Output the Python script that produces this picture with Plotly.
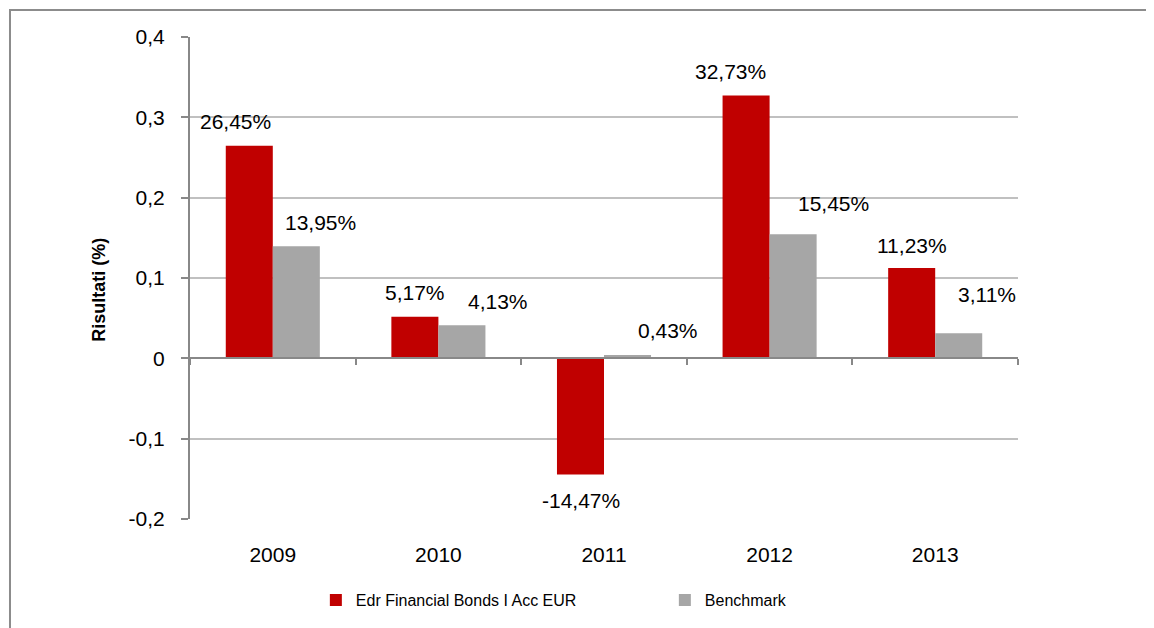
import plotly.graph_objects as go

years = ["2009", "2010", "2011", "2012", "2013"]
fund_name = "Edr Financial Bonds I Acc EUR"
fund = [0.2645, 0.0517, -0.1447, 0.3273, 0.1123]
bench_name = "Benchmark"
bench = [0.1395, 0.0413, 0.0043, 0.1545, 0.0311]
fund_labels = ["26,45%", "5,17%", "-14,47%", "32,73%", "11,23%"]
bench_labels = ["13,95%", "4,13%", "0,43%", "15,45%", "3,11%"]
y_ticks = [-0.2, -0.1, 0, 0.1, 0.2, 0.3, 0.4]
y_ticktext = ["-0,2", "-0,1", "0", "0,1", "0,2", "0,3", "0,4"]

RED = "#C00000"
GREY = "#A6A6A6"
FONT = "Liberation Sans, Arial, sans-serif"

fig = go.Figure()
fig.add_trace(go.Bar(x=years, y=fund, name=fund_name, marker_color=RED,
                     marker_line_width=0))
fig.add_trace(go.Bar(x=years, y=bench, name=bench_name, marker_color=GREY,
                     marker_line_width=0))
# invisible trace so the axis drawn along the zero line is rendered
fig.add_trace(go.Scatter(x=years, y=[0] * len(years), xaxis="x2", mode="markers",
                         marker_opacity=0, showlegend=False, hoverinfo="skip"))

# data label offsets in px (dx from bar centre, dy from bar end), as Excel placed them
fund_shift = [(-14, 24), (0, 24), (0, -26), (-16, 24), (0, 23)]
bench_shift = [(24, 24), (36, 24), (40, 24), (40, 31), (28, 39)]
half_bar = 23.5
for i in range(len(years)):
    dx, dy = fund_shift[i]
    fig.add_annotation(x=i, y=fund[i], xref="x", yref="y", text=fund_labels[i],
                       showarrow=False, xshift=-half_bar + dx, yshift=dy,
                       font=dict(size=21, color="black"))
    dx, dy = bench_shift[i]
    fig.add_annotation(x=i, y=bench[i], xref="x", yref="y", text=bench_labels[i],
                       showarrow=False, xshift=half_bar + dx, yshift=dy,
                       font=dict(size=21, color="black"))

# y axis title, placed like the Excel one
fig.add_annotation(x=-0.111, y=0.476, xref="paper", yref="paper",
                   xanchor="center", yanchor="middle",
                   text="<b>Risultati (%)</b>", textangle=-90, showarrow=False,
                   font=dict(size=18, color="black"))

# outer chart border (only top/left visible in the crop)
fig.add_shape(type="rect", xref="paper", yref="paper",
              x0=-0.2174, x1=1.4, y0=-0.4, y1=1.0559,
              line=dict(color="#8C8C8C", width=2), fillcolor="rgba(0,0,0,0)", layer="below")

fig.update_layout(
    width=1146, height=620,
    margin=dict(l=182, r=136, t=29, b=108),
    paper_bgcolor="white", plot_bgcolor="white",
    font=dict(family=FONT, size=21, color="black"),
    barmode="group", bargap=0.432, bargroupgap=0,
    showlegend=True,
    legend=dict(orientation="h", x=0.152, xanchor="left", y=-0.1656, yanchor="middle",
                font=dict(size=16), entrywidth=304, itemwidth=30,
                bgcolor="rgba(0,0,0,0)"),
    xaxis=dict(type="category", showline=False, showgrid=False, ticks="",
               tickfont=dict(size=21), range=[-0.5, 4.5], ticklabelstandoff=21),
    xaxis2=dict(type="category", overlaying="x", anchor="free", position=1 / 3,
                range=[-0.5, 4.5], showline=True, linecolor="#888888", linewidth=2,
                ticks="outside", ticklen=6, tickcolor="#888888", tickwidth=2,
                tickson="boundaries", showticklabels=False, showgrid=False),
    yaxis=dict(range=[-0.2, 0.4], tickvals=y_ticks, ticktext=y_ticktext,
               showgrid=True, gridcolor="#C0C0C0", gridwidth=2,
               zeroline=False, showline=True, linecolor="#888888", linewidth=2,
               ticks="outside", ticklen=7, tickcolor="#888888", tickwidth=2,
               tickfont=dict(size=21), ticklabelstandoff=12),
)

fig.write_html("out.html")
